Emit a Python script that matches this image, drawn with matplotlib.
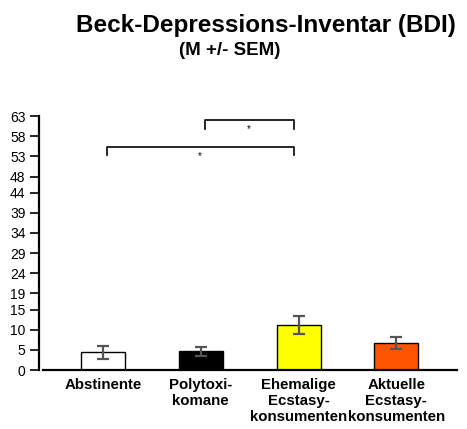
import matplotlib
matplotlib.use("Agg")
import matplotlib.pyplot as plt
import numpy as np

plt.rcParams['font.family'] = ['Liberation Sans', 'DejaVu Sans']

# Data
groups = ['Abstinente', 'Polytoxi-\nkomane', 'Ehemalige\nEcstasy-\nkonsumenten',
          'Aktuelle\nEcstasy-\nkonsumenten']
means = [4.4, 4.6, 11.1, 6.7]
sems = [1.6, 1.0, 2.2, 1.6]
colors = ['#ffffff', '#000000', '#ffff00', '#ff5500']
yticks = [0, 5, 10, 15, 19, 24, 29, 34, 39, 44, 48, 53, 58, 63]

# significance brackets: (from group, to group, height, star)
brackets = [(1, 2, 61.9, '*'), (0, 2, 55.3, '*')]

fig = plt.figure(figsize=(4.67, 4.29), dpi=100)
ax = fig.add_axes([0.092, 0.1375, 0.8865, 0.592])

x = np.arange(len(groups))
ax.bar(x, means, width=0.45, color=colors, edgecolor='black', linewidth=1.0, zorder=2)
ax.errorbar(x, means, yerr=sems, fmt='none', ecolor='#555555', elinewidth=1.6,
            capsize=4, capthick=1.6, zorder=3)

ax.set_xlim(-0.613, 3.62)
ax.set_ylim(0, 63)
ax.set_yticks(yticks)
ax.set_yticklabels([str(v) for v in yticks], fontsize=9.5)
ax.set_xticks(x)
ax.set_xticklabels(groups, fontsize=10.8, fontweight='bold', linespacing=1.15)
ax.tick_params(axis='x', length=0, pad=6)
ax.tick_params(axis='y', length=6.5, width=1.2, pad=3)

ax.spines['top'].set_visible(False)
ax.spines['right'].set_visible(False)
ax.spines['left'].set_linewidth(1.6)
ax.spines['bottom'].set_linewidth(1.6)
ax.spines['left'].set_position(('outward', 3))

# brackets
for a, b, h, s in brackets:
    x0 = a + 0.04
    x1 = b - 0.05
    ax.plot([x0, x0, x1, x1], [h - 2, h, h, h - 2], color='black', lw=1.2,
            clip_on=False)
    ax.text((x0 + x1) / 2, h - 2.2, s, ha='center', va='center', fontsize=7)

fig.text(0.569, 0.941, 'Beck-Depressions-Inventar (BDI)', ha='center', va='center',
         fontsize=17.5, fontweight='bold')
fig.text(0.491, 0.882, '(M +/- SEM)', ha='center', va='center',
         fontsize=13.5, fontweight='bold')

fig.savefig('out.png', dpi=100)
